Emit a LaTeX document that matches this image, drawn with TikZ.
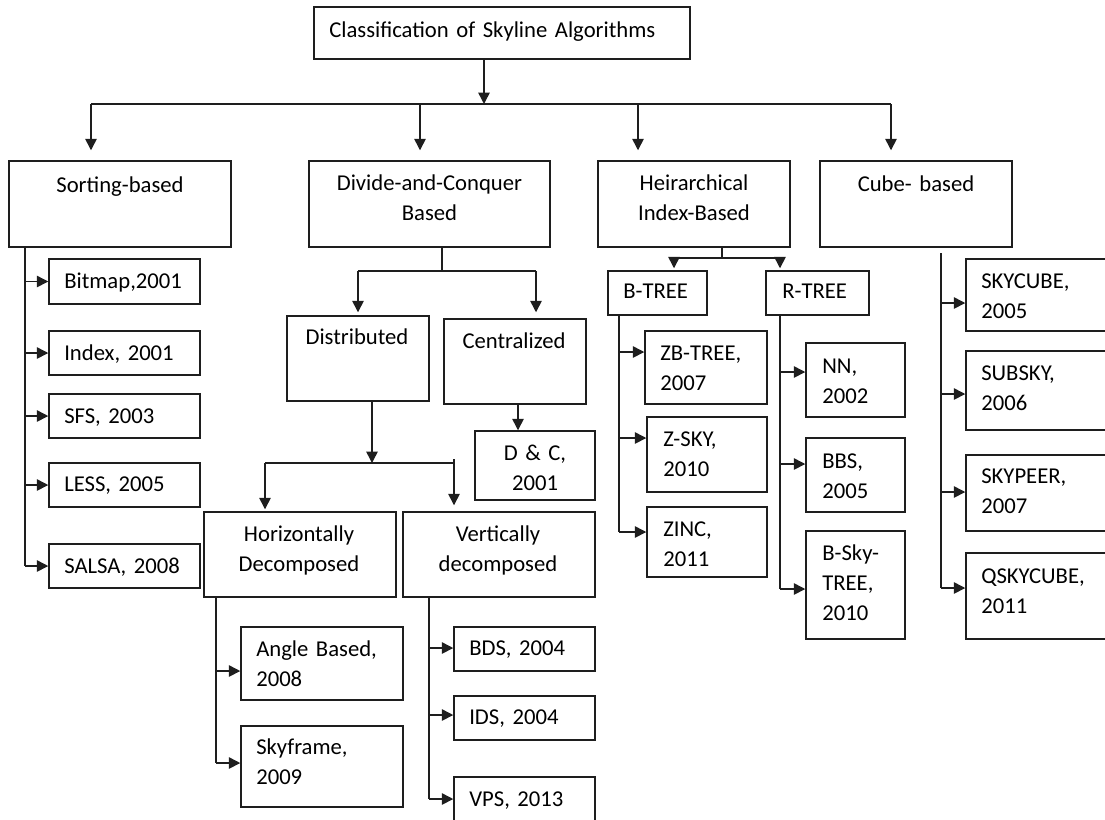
\documentclass[tikz,border=0pt]{standalone}
\usepackage{fontspec}
\setmainfont{Carlito}
\usetikzlibrary{arrows.meta,fit}
\definecolor{linec}{HTML}{1E1E1E}
\newcommand\txtfont{\fontsize{17pt}{22.5pt}\selectfont\spaceskip=0.22em plus 0.05em\xspaceskip=0.22em plus 0.05em\relax}
\tikzset{
  box/.style={draw=linec, line width=1.1pt, inner sep=0pt},
  txt/.style={inner sep=0pt, text width=300pt, font=\txtfont},
  arr/.style={draw=linec, line width=1.1pt, -{Triangle[length=8.5pt,width=8.5pt]}},
  ln/.style={draw=linec, line width=1.1pt},
}
% name, left, top, right, bottom, text x, baseline y, align (left/center), text
\newcommand\bx[9]{%
  \node[box, fit={(#2,#3) (#4,#5)}] (#1) {};
  \ifx l#8%
    \node[txt, align=left, anchor=base west] (#1t) at (#6,#7) {#9};
  \else
    \node[txt, align=center, anchor=base] (#1t) at (#6,#7) {#9};
  \fi
}
\begin{document}
\begin{tikzpicture}[x=0.75pt,y=-0.75pt]
\useasboundingbox (0,0) rectangle (1105,819);
\clip (0,0) rectangle (1105,819);

% top levels
\bx{root}{314}{7}{690}{59}{329}{37}{l}{Classification of Skyline Algorithms}
\bx{sort}{9}{161}{231}{247}{120}{192}{c}{Sorting-based}
\bx{dc}{309}{161}{550}{247}{429.5}{190}{c}{Divide-and-Conquer\\Based}
\bx{hier}{598}{161}{790}{247}{694}{190}{c}{Heirarchical\\Index-Based}
\bx{cube}{820}{161}{1012}{247}{916}{191}{c}{Cube- based}

% sorting-based children
\bx{bitmap}{49}{259}{200}{304}{64}{288}{l}{Bitmap,2001}
\bx{index}{49}{331}{200}{375}{64}{360}{l}{Index, 2001}
\bx{sfs}{49}{394}{200}{438}{64}{423}{l}{SFS, 2003}
\bx{less}{49}{463}{200}{507}{64}{491}{l}{LESS, 2005}
\bx{salsa}{49}{544}{200}{588}{64}{573}{l}{SALSA, 2008}

% divide and conquer
\bx{dist}{287}{316}{429}{401}{357}{344}{c}{Distributed}
\bx{cent}{444}{319}{586}{404}{514}{348}{c}{Centralized}
\bx{dandc}{475}{431}{595}{500}{535}{460}{c}{D \& C,\\2001}
\bx{hor}{204}{512}{396}{597}{299}{541}{c}{Horizontally\\Decomposed}
\bx{ver}{403}{512}{595}{597}{498}{541}{c}{Vertically\\decomposed}
\bx{angle}{241}{627}{403}{700}{256}{656}{l}{Angle Based,\\2008}
\bx{skyf}{241}{726}{403}{807}{256}{754}{l}{Skyframe,\\2009}
\bx{bds}{454}{627}{595}{671}{469}{655}{l}{BDS, 2004}
\bx{ids}{454}{696}{595}{740}{469}{724}{l}{IDS, 2004}
\bx{vps}{454}{777}{595}{840}{469}{806}{l}{VPS, 2013}

% hierarchical
\bx{btree}{608}{271}{707}{315}{623}{298}{l}{B-TREE}
\bx{rtree}{766}{271}{869}{315}{782}{298}{l}{R-TREE}
\bx{zb}{645}{331}{767}{404}{660}{360}{l}{ZB-TREE,\\2007}
\bx{zsky}{647}{417}{767}{492}{663}{446}{l}{Z-SKY,\\2010}
\bx{zinc}{647}{507}{767}{577}{663}{536}{l}{ZINC,\\2011}
\bx{nn}{806}{343}{905}{417}{822}{373}{l}{NN,\\2002}
\bx{bbs}{806}{438}{905}{512}{822}{468}{l}{BBS,\\2005}
\bx{bsky}{806}{531}{905}{639}{822}{560}{l}{B-Sky-\\TREE,\\2010}

% cube
\bx{skycube}{966}{259}{1130}{331}{981}{288}{l}{SKYCUBE,\\2005}
\bx{subsky}{966}{351}{1130}{430}{981}{380}{l}{SUBSKY,\\2006}
\bx{skypeer}{966}{455}{1130}{531}{981}{483}{l}{SKYPEER,\\2007}
\bx{qsky}{966}{553}{1130}{639}{981}{583}{l}{QSKYCUBE,\\2011}

% ---- connectors ----
\coordinate (bus) at (484,104);
\draw[arr] (root.south -| bus) -- (bus);
\coordinate (b1) at (91,104);
\coordinate (b2) at (420,104);
\coordinate (b3) at (638,104);
\coordinate (b4) at (891,104);
\draw[ln] (b1) -- (b4);
\draw[arr, shorten >=7.5pt] (b1) -- (sort.north -| b1);
\draw[arr, shorten >=7.5pt] (b2) -- (dc.north -| b2);
\draw[arr, shorten >=7.5pt] (b3) -- (hier.north -| b3);
\draw[arr, shorten >=7.5pt] (b4) -- (cube.north -| b4);

% sorting trunk
\coordinate (s0) at (25,250);
\draw[ln] (sort.south -| s0) -- (s0 |- salsa.west);
\draw[arr] (s0 |- bitmap.west) -- (bitmap.west);
\draw[arr] (s0 |- index.west) -- (index.west);
\draw[arr] (s0 |- sfs.west) -- (sfs.west);
\draw[arr] (s0 |- less.west) -- (less.west);
\draw[arr] (s0 |- salsa.west) -- (salsa.west);

% divide and conquer
\coordinate (d0) at (442,271);
\coordinate (d1) at (358,271);
\coordinate (d2) at (536,271);
\draw[ln] (dc.south -| d0) -- (d0);
\draw[ln] (d1) -- (d2);
\draw[arr, shorten >=2.25pt] (d1) -- (dist.north -| d1);
\draw[arr, shorten >=4.5pt] (d2) -- (cent.north -| d2);

\coordinate (e0) at (372,463);
\coordinate (e1) at (265,463);
\coordinate (e2) at (454,463);
\coordinate (e2t) at (454,459);
\draw[arr] (dist.south -| e0) -- (e0);
\draw[ln] (e1) -- (e2);
\draw[arr, shorten >=1.5pt] (e1) -- (hor.north -| e1);
\draw[arr, shorten >=4.5pt] (e2t) -- (ver.north -| e2t);

\coordinate (f0) at (518,420);
\draw[arr] (cent.south -| f0) -- (dandc.north -| f0);

\coordinate (h1) at (216,671);
\coordinate (h2) at (216,763);
\draw[ln] (hor.south -| h1) -- (h2);
\draw[arr] (h1) -- (angle.west |- h1);
\draw[arr] (h2) -- (skyf.west |- h2);

\coordinate (v1) at (429,648);
\coordinate (v2) at (429,715);
\coordinate (v3) at (429,799);
\draw[ln] (ver.south -| v1) -- (v3);
\draw[arr] (v1) -- (bds.west |- v1);
\draw[arr] (v2) -- (ids.west |- v2);
\draw[arr] (v3) -- (vps.west |- v3);

% hierarchical
\coordinate (g0) at (722,258);
\coordinate (g1) at (674,258);
\coordinate (g2) at (780,258);
\draw[ln] (hier.south -| g0) -- (g0);
\draw[ln] (g1) -- (g2);
\draw[arr, shorten >=1.5pt] (g1) -- (btree.north -| g1);
\draw[arr, shorten >=1.5pt] (g2) -- (rtree.north -| g2);

\coordinate (t1) at (619,352);
\coordinate (t2) at (619,438);
\coordinate (t3) at (619,532);
\draw[ln] (btree.south -| t1) -- (t3);
\draw[arr] (t1) -- (zb.west |- t1);
\draw[arr] (t2) -- (zsky.west |- t2);
\draw[arr] (t3) -- (zinc.west |- t3);

\coordinate (r1) at (780,372);
\coordinate (r2) at (780,464);
\coordinate (r3) at (780,589);
\draw[ln] (rtree.south -| r1) -- (r3);
\draw[arr] (r1) -- (nn.west |- r1);
\draw[arr] (r2) -- (bbs.west |- r2);
\draw[arr] (r3) -- (bsky.west |- r3);

% cube
\coordinate (c0) at (941,253);
\coordinate (c1) at (941,303);
\coordinate (c2) at (941,394);
\coordinate (c3) at (941,492);
\coordinate (c4) at (941,588);
\draw[ln] (c0) -- (c4);
\draw[arr] (c1) -- (skycube.west |- c1);
\draw[arr] (c2) -- (subsky.west |- c2);
\draw[arr] (c3) -- (skypeer.west |- c3);
\draw[arr] (c4) -- (qsky.west |- c4);
\end{tikzpicture}
\end{document}
